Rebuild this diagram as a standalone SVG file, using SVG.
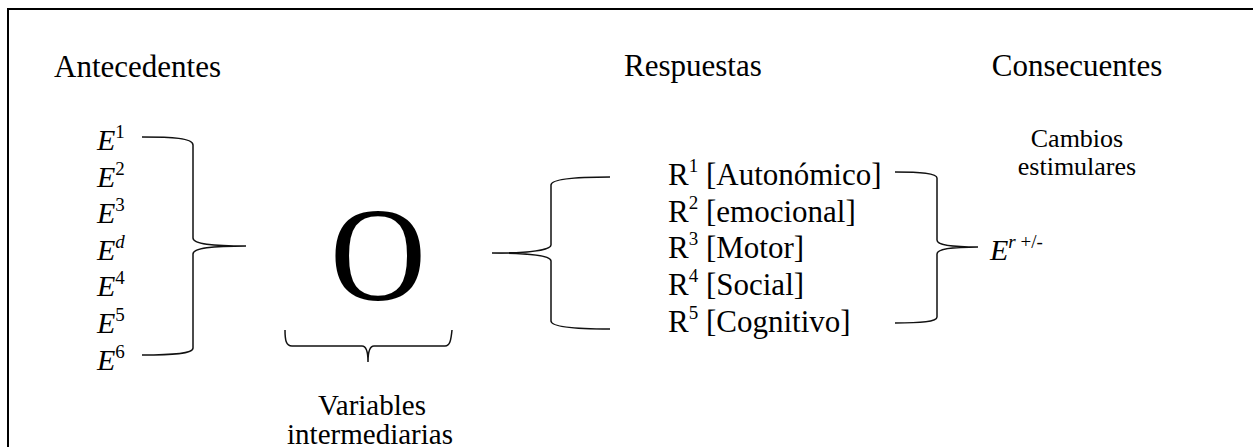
<svg xmlns="http://www.w3.org/2000/svg" width="1253" height="447" viewBox="0 0 1253 447">
<style>
text{font-family:"Liberation Serif","Times New Roman",serif;fill:#000}
.h{font-size:31px}
.t{font-size:31px}
.v{font-size:29px}
.e{font-size:30px;font-style:italic}
.sup{font-size:19px;font-style:normal}
.supi{font-size:19px;font-style:italic}
.small{font-size:26px}
.br{fill:none;stroke:#111;stroke-width:1.5}
</style>
<rect width="1253" height="447" fill="#fff"/>
<g id="frame">
<path d="M8,460 L8,9 L1260,9" fill="none" stroke="#000" stroke-width="2"/>
</g>
<g id="antecedentes"><text class="h" x="54" y="77">Antecedentes</text></g>
<g id="respuestas"><text class="h" x="624" y="76">Respuestas</text></g>
<g id="consecuentes"><text class="h" x="1077" y="76" text-anchor="middle">Consecuentes</text></g>
<g id="estimulos">
<text class="e" x="97" y="150">E<tspan class="sup" dy="-12">1</tspan></text>
<text class="e" x="97" y="187">E<tspan class="sup" dy="-12">2</tspan></text>
<text class="e" x="97" y="223">E<tspan class="sup" dy="-12">3</tspan></text>
<text class="e" x="97" y="260">E<tspan class="supi" dy="-12">d</tspan></text>
<text class="e" x="97" y="296">E<tspan class="sup" dy="-12">4</tspan></text>
<text class="e" x="97" y="333">E<tspan class="sup" dy="-12">5</tspan></text>
<text class="e" x="97" y="370">E<tspan class="sup" dy="-12">6</tspan></text>
</g>
<g id="organismo"><text x="378" y="300" text-anchor="middle" style="font-size:133px">O</text></g>
<g id="variables">
<text class="v" x="372" y="415" text-anchor="middle">Variables</text>
<text class="v" x="370" y="444" text-anchor="middle">intermediarias</text>
</g>
<g id="respuestas-lista">
<text class="t" x="668" y="185">R<tspan class="sup" dy="-13">1</tspan><tspan dy="13"> [Autonómico]</tspan></text>
<text class="t" x="668" y="222">R<tspan class="sup" dy="-13">2</tspan><tspan dy="13"> [emocional]</tspan></text>
<text class="t" x="668" y="258">R<tspan class="sup" dy="-13">3</tspan><tspan dy="13"> [Motor]</tspan></text>
<text class="t" x="668" y="295">R<tspan class="sup" dy="-13">4</tspan><tspan dy="13"> [Social]</tspan></text>
<text class="t" x="668" y="332">R<tspan class="sup" dy="-13">5</tspan><tspan dy="13"> [Cognitivo]</tspan></text>
</g>
<g id="cambios">
<text class="small" x="1077" y="147" text-anchor="middle">Cambios</text>
<text class="small" x="1077" y="175" text-anchor="middle">estimulares</text>
</g>
<g id="refuerzo"><text class="e" x="990" y="260">E<tspan class="supi" dy="-12">r</tspan><tspan class="sup"> +/-</tspan></text></g>
<g id="connectors">
<path class="br" d="M142,137 C172,137 193,138 193,145 L193,238 C193,244 212,246 246,246 C212,246 193,248 193,254 L193,348 C193,354 172,355 142,355"/>
<path class="br" d="M610,177 C575,177 551,179 551,185 L551,245 C551,250 530,253 492,253 C530,253 551,256 551,261 L551,321 C551,327 575,329 610,329"/>
<path class="br" d="M895,172 C920,172 937,173 937,178 L937,240 C937,245 950,247 978,247 C950,247 937,249 937,254 L937,317 C937,322 920,323 895,323"/>
<path class="br" d="M285,330 C285,340 286,346 292,346 L362,346 C366,346 368,350 368,362 C368,350 370,346 374,346 L445,346 C450,346 451,340 452,330"/>
</g>
</svg>
